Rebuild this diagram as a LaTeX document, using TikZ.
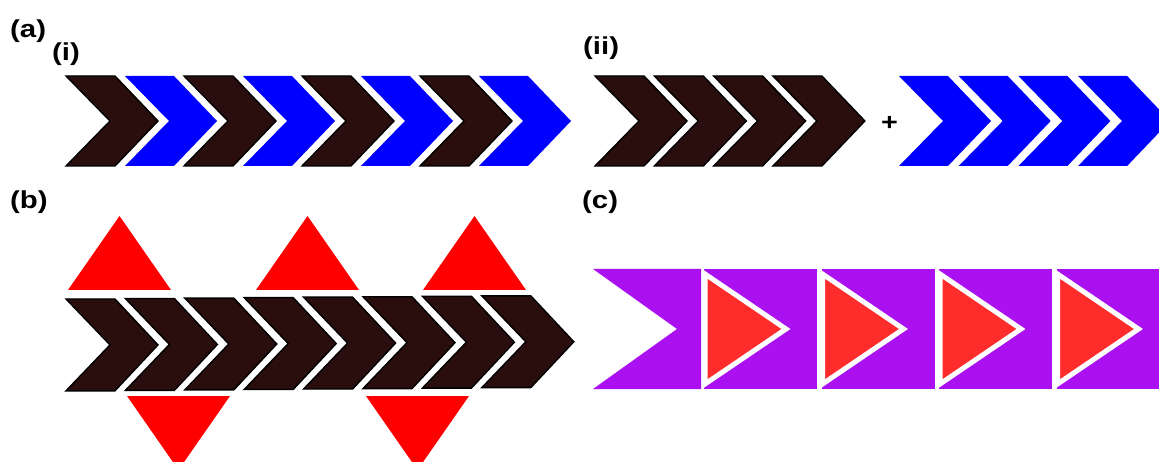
\documentclass[tikz,border=0pt]{standalone}
\usepackage{fontspec}
\usepackage{graphicx}
\setmainfont{Liberation Sans}
\definecolor{chevbrown}{RGB}{42,13,13}
\definecolor{chevblue}{RGB}{0,0,255}
\definecolor{trired}{RGB}{255,0,0}
\definecolor{boxpurple}{RGB}{170,16,240}
\definecolor{softred}{RGB}{255,44,44}
\begin{document}
\begin{tikzpicture}[x=1pt,y=-1pt,
  chevron/.pic={\path[pic actions] (0,0) -- (49,0) -- (92,45) -- (49,90) -- (0,90) -- (44,45) -- cycle;},
  darkchev/.style={fill=chevbrown, draw=black, line width=1.4pt, line join=miter},
  bluechev/.style={fill=chevblue},
  panel/.style={font=\bfseries\fontsize{24.5}{24.5}\selectfont, inner sep=0pt, anchor=base west},
  redtri/.style={fill=trired},
  purplebox/.style={fill=boxpurple},
  playtri/.style={fill=softred, draw=white, line width=5pt, line join=miter}
]
\path[use as bounding box, clip] (0,0) rectangle (1159,462);

% panel labels
\node[panel] (la)  at (10,37.5)  {\scalebox{1.2}[1]{(a)}};
\node[panel] (li)  at (52,60.5)  {\scalebox{1.2}[1]{(i)}};
\node[panel] (lii) at (583,54.5) {\scalebox{1.2}[1]{(ii)}};
\node[panel] (lb)  at (10,208.5) {\scalebox{1.2}[1]{(b)}};
\node[panel] (lc)  at (582,208.5) {\scalebox{1.2}[1]{(c)}};

% (a)(i): alternating strand
\foreach \k in {0,...,7}{
  \pgfmathtruncatemacro{\odd}{mod(\k,2)}
  \ifnum\odd=0
    \pic[darkchev] at ({66+59*\k},76) {chevron};
  \else
    \pic[bluechev] at ({66+59*\k},76) {chevron};
  \fi
}

% (a)(ii): separate blocks
\foreach \k in {0,...,3}{
  \pic[darkchev] at ({595+59.3*\k},76) {chevron};
  \pic[bluechev] at ({899+59.7*\k},76) {chevron};
}
\node[anchor=base, inner sep=0pt, font=\bfseries\fontsize{24}{24}\selectfont] (plus) at (889.5,131) {\scalebox{1.2}[1]{+}};

% (b): strand with side groups
\foreach \k in {0,...,7}{
  \pic[darkchev, yscale=1.02] at ({66+59.4*\k},{299-0.45*\k}) {chevron};
}
\fill[redtri] (68,290) -- (119.5,216) -- (171,290) -- cycle;
\fill[redtri] (256,290) -- (307.5,216) -- (359,290) -- cycle;
\fill[redtri] (423,290) -- (474.5,216) -- (526,290) -- cycle;
\fill[redtri] (127,396) -- (178.5,470) -- (230,396) -- cycle;
\fill[redtri] (366,396) -- (417.5,470) -- (469,396) -- cycle;

% (c): blocks with directed triangles
\fill[purplebox] (593,269) -- (701,269) -- (701,389) -- (593,389) -- (677,329) -- cycle;
\foreach \k in {0,...,3}{
  \pgfmathsetmacro{\L}{704+117.5*\k}
  \fill[purplebox] (\L,269) rectangle ({\L+113},389);
  \filldraw[playtri] ({\L+1},274) -- ({\L+82},329) -- ({\L+1},384) -- cycle;
}
\end{tikzpicture}
\end{document}
